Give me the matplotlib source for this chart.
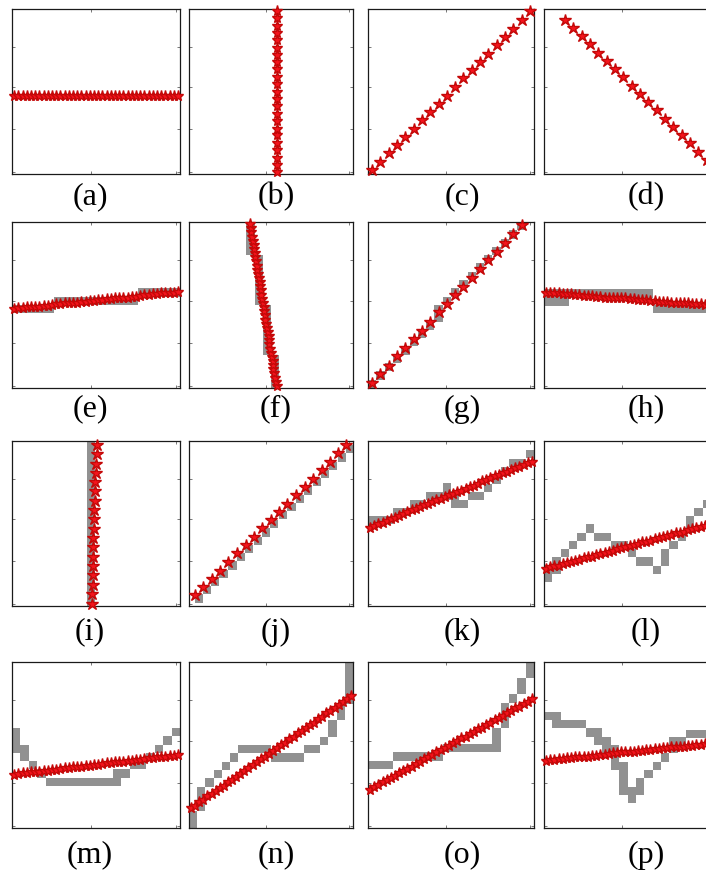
import matplotlib
matplotlib.use('Agg')
import matplotlib.pyplot as plt

GRAY = '#919191'
RED = '#f3141c'
RED_EDGE = '#c40808'

# x positions of the dense fitted-line markers (every half cell)
XS40 = [0.25, 0.75, 1.25, 1.75, 2.25, 2.75, 3.25, 3.75, 4.25, 4.75,
        5.25, 5.75, 6.25, 6.75, 7.25, 7.75, 8.25, 8.75, 9.25, 9.75,
        10.25, 10.75, 11.25, 11.75, 12.25, 12.75, 13.25, 13.75, 14.25, 14.75,
        15.25, 15.75, 16.25, 16.75, 17.25, 17.75, 18.25, 18.75, 19.25, 19.75]

# (a) horizontal
A_Y = [9.4, 9.4, 9.4, 9.4, 9.4, 9.4, 9.4, 9.4, 9.4, 9.4,
       9.4, 9.4, 9.4, 9.4, 9.4, 9.4, 9.4, 9.4, 9.4, 9.4,
       9.4, 9.4, 9.4, 9.4, 9.4, 9.4, 9.4, 9.4, 9.4, 9.4,
       9.4, 9.4, 9.4, 9.4, 9.4, 9.4, 9.4, 9.4, 9.4, 9.4]

# (b) vertical
B_X = [10.7, 10.7, 10.7, 10.7, 10.7, 10.7, 10.7, 10.7, 10.7, 10.7, 10.7, 10.7,
       10.7, 10.7, 10.7, 10.7, 10.7, 10.7, 10.7, 10.7, 10.7, 10.7, 10.7]
B_Y = [0.2, 1.1, 2.0, 2.9, 3.8, 4.7, 5.5, 6.4, 7.3, 8.2, 9.1, 10.0,
       10.9, 11.8, 12.7, 13.6, 14.4, 15.3, 16.2, 17.1, 18.0, 18.9, 19.8]

# (c) rising diagonal
C_X = [0.5, 1.5, 2.5, 3.5, 4.5, 5.5, 6.5, 7.5, 8.5, 9.5,
       10.5, 11.5, 12.5, 13.5, 14.5, 15.5, 16.5, 17.5, 18.5, 19.5]
C_Y = [0.5, 1.5, 2.5, 3.5, 4.5, 5.5, 6.5, 7.5, 8.5, 9.5,
       10.6, 11.6, 12.6, 13.6, 14.6, 15.6, 16.6, 17.6, 18.7, 19.7]

# (d) falling diagonal
D_X = [2.5, 3.5, 4.5, 5.5, 6.5, 7.5, 8.5, 9.5, 10.5, 11.5,
       12.5, 13.5, 14.5, 15.5, 16.5, 17.5, 18.5, 19.5, 20.5]
D_Y = [18.7, 17.7, 16.7, 15.7, 14.7, 13.7, 12.7, 11.7, 10.7, 9.7,
       8.7, 7.7, 6.7, 5.7, 4.7, 3.7, 2.7, 1.7, 0.7]

# (e)
E_Y = [9.5, 9.6, 9.6, 9.7, 9.7, 9.8, 9.8, 9.9, 9.9, 10.0,
       10.1, 10.1, 10.2, 10.2, 10.3, 10.3, 10.4, 10.4, 10.5, 10.5,
       10.6, 10.6, 10.7, 10.7, 10.8, 10.8, 10.9, 10.9, 11.0, 11.0,
       11.1, 11.2, 11.2, 11.3, 11.3, 11.4, 11.4, 11.5, 11.5, 11.6]
E_GRAY = [(0.5, 9.5), (1.5, 9.5), (2.5, 9.5), (3.5, 9.5), (4.5, 9.5),
          (5.5, 10.5), (6.5, 10.5), (7.5, 10.5), (8.5, 10.5), (9.5, 10.5),
          (10.5, 10.5), (11.5, 10.5), (12.5, 10.5), (13.5, 10.5), (14.5, 10.5),
          (15.5, 11.5), (16.5, 11.5), (17.5, 11.5), (18.5, 11.5), (19.5, 11.5)]

# (f) near vertical, markers every half cell in y
F_X = [10.7, 10.6, 10.5, 10.4, 10.3, 10.2, 10.2, 10.1, 10.0, 9.9,
       9.8, 9.8, 9.7, 9.6, 9.5, 9.4, 9.3, 9.3, 9.2, 9.1,
       9.0, 8.9, 8.8, 8.8, 8.7, 8.6, 8.5, 8.4, 8.3, 8.3,
       8.2, 8.1, 8.0, 7.9, 7.9, 7.8, 7.7, 7.6, 7.5, 7.4]
F_GRAY = [(10.5, 0.5), (10.5, 1.5), (10.5, 2.5), (10.5, 3.5),
          (9.5, 4.5), (9.5, 5.5), (9.5, 6.5), (9.5, 7.5), (9.5, 8.5), (9.5, 9.5),
          (8.5, 10.5), (8.5, 11.5), (8.5, 12.5), (8.5, 13.5), (8.5, 14.5), (8.5, 15.5),
          (7.5, 16.5), (7.5, 17.5), (7.5, 18.5), (7.5, 19.5)]

# (g)
G_X = [0.5, 1.5, 2.5, 3.5, 4.5, 5.5, 6.5, 7.5, 8.5, 9.5,
       10.5, 11.5, 12.5, 13.5, 14.5, 15.5, 16.5, 17.5, 18.5]
G_Y = [0.6, 1.7, 2.7, 3.8, 4.8, 5.9, 6.9, 8.0, 9.1, 10.1,
       11.2, 12.2, 13.3, 14.3, 15.4, 16.4, 17.5, 18.6, 19.6]
G_GRAY = [(0.5, 0.5), (1.5, 1.5), (2.5, 2.5), (3.5, 3.5), (4.5, 4.5), (5.5, 5.5),
          (6.5, 6.5), (7.5, 7.5), (8.5, 8.5), (8.5, 9.5), (9.5, 10.5), (10.5, 11.5),
          (11.5, 12.5), (12.5, 13.5), (13.5, 14.5), (14.5, 15.5), (15.5, 16.5),
          (16.5, 17.5), (17.5, 18.5), (18.5, 19.5)]

# (h)
H_Y = [11.5, 11.4, 11.4, 11.4, 11.3, 11.3, 11.3, 11.2, 11.2, 11.1,
       11.1, 11.1, 11.0, 11.0, 10.9, 10.9, 10.9, 10.8, 10.8, 10.8,
       10.7, 10.7, 10.6, 10.6, 10.6, 10.5, 10.5, 10.4, 10.4, 10.4,
       10.3, 10.3, 10.3, 10.2, 10.2, 10.1, 10.1, 10.1, 10.0, 10.0]
H_GRAY = [(0.5, 10.4), (1.5, 10.4), (2.5, 10.4),
          (0.5, 11.4), (1.5, 11.4), (2.5, 11.4), (3.5, 11.4), (4.5, 11.4), (5.5, 11.4),
          (6.5, 11.4), (7.5, 11.4), (8.5, 11.4), (9.5, 11.4), (10.5, 11.4), (11.5, 11.4),
          (12.5, 11.4), (13.5, 9.5), (14.5, 9.5), (15.5, 9.5), (16.5, 9.5), (17.5, 9.5),
          (18.5, 9.5), (19.5, 9.5)]

# (i) near vertical with pixels on the left
I_X = [9.5, 9.5, 9.6, 9.6, 9.6, 9.7, 9.7, 9.7, 9.8, 9.8,
       9.8, 9.9, 9.9, 9.9, 10.0, 10.0, 10.1, 10.1]
I_Y = [0.3, 1.4, 2.6, 3.7, 4.8, 5.9, 7.1, 8.2, 9.3, 10.5,
       11.6, 12.7, 13.9, 15.0, 16.1, 17.2, 18.4, 19.5]
I_GRAY = [(9.4, 0.5), (9.4, 1.5), (9.4, 2.5), (9.4, 3.5), (9.4, 4.5), (9.4, 5.5),
          (9.4, 6.5), (9.4, 7.5), (9.4, 8.5), (9.4, 9.5), (9.4, 10.5), (9.4, 11.5),
          (9.4, 12.5), (9.4, 13.5), (9.4, 14.5), (9.4, 15.5), (9.4, 16.5), (9.4, 17.5),
          (9.4, 18.5), (9.4, 19.5)]

# (j)
J_X = [0.7, 1.7, 2.8, 3.8, 4.8, 5.9, 6.9, 7.9, 8.9, 10.0,
       11.0, 12.0, 13.1, 14.1, 15.1, 16.2, 17.2, 18.2, 19.2]
J_Y = [1.3, 2.3, 3.3, 4.3, 5.3, 6.4, 7.4, 8.4, 9.4, 10.4,
       11.4, 12.4, 13.4, 14.4, 15.4, 16.5, 17.5, 18.5, 19.5]
J_GRAY = [(1.2, 0.9), (2.2, 1.9), (3.2, 2.9), (4.2, 3.9), (5.3, 4.9), (6.3, 5.9),
          (7.3, 6.9), (8.4, 7.9), (9.4, 8.9), (10.4, 9.9), (11.5, 11.0), (12.5, 12.0),
          (13.5, 13.0), (14.5, 14.0), (15.6, 15.0), (16.6, 16.0), (17.6, 17.0),
          (18.7, 18.0), (19.7, 19.0)]

# (k)
K_Y = [9.5, 9.7, 9.9, 10.1, 10.3, 10.5, 10.7, 10.9, 11.1, 11.4,
       11.6, 11.8, 12.0, 12.2, 12.4, 12.6, 12.8, 13.0, 13.2, 13.4,
       13.6, 13.8, 14.0, 14.2, 14.4, 14.6, 14.8, 15.1, 15.3, 15.5,
       15.7, 15.9, 16.1, 16.3, 16.5, 16.7, 16.9, 17.1, 17.3, 17.5]
K_GRAY = [(0.5, 10.4), (1.5, 10.4), (2.5, 10.4), (3.5, 11.4), (4.5, 11.4),
          (5.5, 12.4), (6.5, 12.4), (7.5, 13.3), (8.5, 13.3), (9.5, 14.4),
          (9.5, 13.4), (10.5, 13.4), (10.5, 12.4), (11.5, 12.4), (12.5, 13.3),
          (13.5, 13.3), (14.5, 14.3), (15.5, 15.3), (16.5, 16.3), (17.5, 17.3),
          (18.5, 17.3), (19.5, 18.4)]

# (l)
L_Y = [4.5, 4.7, 4.8, 4.9, 5.1, 5.2, 5.3, 5.5, 5.6, 5.8,
       5.9, 6.0, 6.2, 6.3, 6.4, 6.6, 6.7, 6.9, 7.0, 7.1,
       7.3, 7.4, 7.5, 7.7, 7.8, 7.9, 8.1, 8.2, 8.4, 8.5,
       8.6, 8.8, 8.9, 9.0, 9.2, 9.3, 9.5, 9.6, 9.7, 9.9]
L_GRAY = [(0.5, 3.4), (0.5, 4.4), (1.5, 4.4), (1.5, 5.4), (2.5, 6.4), (3.5, 7.4),
          (4.5, 8.4), (5.5, 9.4), (6.5, 8.4), (7.5, 8.4), (8.5, 7.4), (9.5, 7.4),
          (10.5, 6.4), (11.5, 5.4), (12.5, 5.4), (13.5, 4.4), (14.5, 5.4), (14.5, 6.4),
          (15.5, 7.4), (16.5, 8.4), (17.5, 9.4), (17.5, 10.4), (18.5, 11.4), (19.5, 12.4)]

# (m)
M_Y = [6.4, 6.5, 6.6, 6.6, 6.7, 6.7, 6.8, 6.9, 6.9, 7.0,
       7.0, 7.1, 7.2, 7.2, 7.3, 7.3, 7.4, 7.5, 7.5, 7.6,
       7.6, 7.7, 7.8, 7.8, 7.9, 7.9, 8.0, 8.1, 8.1, 8.2,
       8.2, 8.3, 8.4, 8.4, 8.5, 8.5, 8.6, 8.7, 8.7, 8.8]
M_GRAY = [(0.5, 9.55), (0.5, 10.55), (0.5, 11.55), (1.5, 8.55), (1.5, 9.55),
          (2.5, 7.55), (3.5, 6.55), (4.5, 5.55), (5.5, 5.55), (6.5, 5.55),
          (7.5, 5.55), (8.5, 5.55), (9.5, 5.55), (10.5, 5.55), (11.5, 5.55),
          (12.5, 5.55), (12.5, 6.55), (13.5, 6.55), (14.5, 7.55), (15.5, 7.55),
          (16.5, 8.55), (17.5, 9.55), (18.5, 10.55), (19.5, 11.55)]

# (n)
N_Y = [2.4, 2.7, 3.1, 3.4, 3.8, 4.1, 4.5, 4.8, 5.1, 5.5,
       5.8, 6.2, 6.5, 6.9, 7.2, 7.6, 7.9, 8.3, 8.6, 8.9,
       9.3, 9.6, 10.0, 10.3, 10.7, 11.0, 11.4, 11.7, 12.1, 12.4,
       12.7, 13.1, 13.4, 13.8, 14.1, 14.5, 14.8, 15.2, 15.5, 15.9]
N_GRAY = [(0.5, 0.5), (0.5, 1.5), (1.5, 2.5), (1.5, 3.5), (1.5, 4.5), (2.5, 5.5),
          (3.5, 6.5), (4.5, 7.5), (5.5, 8.5), (6.5, 9.5), (7.5, 9.5), (8.5, 9.5),
          (9.5, 9.5), (10.5, 8.5), (11.5, 8.5), (12.5, 8.5), (13.5, 8.5), (14.5, 9.5),
          (15.5, 9.5), (16.5, 10.5), (17.5, 11.5), (17.5, 12.5), (18.5, 13.5),
          (18.5, 14.5), (19.5, 15.5), (19.5, 16.5), (19.5, 17.5), (19.5, 18.5),
          (19.5, 19.5)]

# (o)
O_Y = [4.6, 4.9, 5.2, 5.5, 5.8, 6.0, 6.3, 6.6, 6.9, 7.1,
       7.4, 7.7, 8.0, 8.3, 8.5, 8.8, 9.1, 9.4, 9.6, 9.9,
       10.2, 10.5, 10.8, 11.0, 11.3, 11.6, 11.9, 12.1, 12.4, 12.7,
       13.0, 13.3, 13.5, 13.8, 14.1, 14.4, 14.6, 14.9, 15.2, 15.5]
O_GRAY = [(0.5, 7.6), (1.5, 7.6), (2.5, 7.6), (3.5, 8.6), (4.5, 8.6), (5.5, 8.6),
          (6.5, 8.6), (7.5, 8.6), (8.5, 8.6), (9.5, 9.6), (10.5, 9.6), (11.5, 9.6),
          (12.5, 9.6), (13.5, 9.6), (14.5, 9.6), (15.5, 9.6), (15.5, 10.6), (15.5, 11.6),
          (16.5, 12.6), (16.5, 13.6), (16.5, 14.6), (17.5, 15.6), (18.5, 16.6),
          (18.5, 17.6), (19.5, 18.6), (19.5, 19.6)]

# (p)
P_Y = [8.1, 8.2, 8.2, 8.3, 8.3, 8.4, 8.4, 8.5, 8.5, 8.6,
       8.6, 8.7, 8.7, 8.8, 8.8, 8.9, 9.0, 9.0, 9.1, 9.1,
       9.2, 9.2, 9.3, 9.3, 9.4, 9.4, 9.5, 9.5, 9.6, 9.6,
       9.7, 9.7, 9.8, 9.8, 9.9, 9.9, 10.0, 10.0, 10.1, 10.1]
P_GRAY = [(0.5, 13.5), (1.5, 13.5), (1.5, 12.5), (2.5, 12.5), (3.5, 12.5), (4.5, 12.5),
          (5.5, 11.5), (6.5, 11.5), (6.5, 10.5), (7.5, 10.5), (7.5, 9.5), (8.5, 9.5),
          (8.5, 8.5), (8.5, 7.5), (9.5, 7.5), (9.5, 6.5), (9.5, 5.5), (9.5, 4.5),
          (10.5, 4.5), (10.5, 3.5), (11.5, 4.5), (11.5, 5.5), (12.5, 6.5), (13.5, 7.5),
          (14.5, 8.5), (15.5, 9.5), (15.5, 10.5), (16.5, 10.5), (17.5, 11.3),
          (18.5, 11.3), (19.5, 11.3)]

LABELS = ['(a)', '(b)', '(c)', '(d)', '(e)', '(f)', '(g)', '(h)',
          '(i)', '(j)', '(k)', '(l)', '(m)', '(n)', '(o)', '(p)']


def draw_panel(ax, gray, mx, my, ms):
    if gray:
        gx = [g[0] for g in gray]
        gy = [g[1] - 0.5 for g in gray]
        ax.bar(gx, 1.0, width=1.0, bottom=gy, color=GRAY, linewidth=0, zorder=2)
    ax.plot(mx, my, linestyle='none', marker='*', ms=ms, mfc=RED, mec=RED_EDGE,
            mew=1.0, clip_on=False, zorder=3)

    ax.set_xlim(0, 20)
    ax.set_ylim(0, 20)
    ax.set_xticks([0, 9.4, 19.5])
    ax.set_yticks([0.2, 5.4, 10.5, 15.4, 20])
    ax.tick_params(direction='in', length=2.5, width=0.5, colors='#444444',
                   top=True, right=True, labelbottom=False, labelleft=False)
    for sp in ax.spines.values():
        sp.set_linewidth(0.9)
        sp.set_color('#1a1a1a')


def main():
    W, H = 706, 876
    fig = plt.figure(figsize=(W / 100, H / 100), dpi=100)

    col_left = [12, 189, 368, 544]
    col_width = [168, 164, 166, 167]
    row_top = [9, 222, 441, 662]
    row_height = [165, 166, 165, 166]
    label_x = [90, 276, 462, 646]
    label_y = [197, 409, 632, 855]

    dense, big = 8, 9
    panels = [
        ([], XS40, A_Y, dense), ([], B_X, B_Y, dense), ([], C_X, C_Y, big), ([], D_X, D_Y, big),
        (E_GRAY, XS40, E_Y, dense), (F_GRAY, F_X, XS40, dense), (G_GRAY, G_X, G_Y, big), (H_GRAY, XS40, H_Y, dense),
        (I_GRAY, I_X, I_Y, big), (J_GRAY, J_X, J_Y, big), (K_GRAY, XS40, K_Y, dense), (L_GRAY, XS40, L_Y, dense),
        (M_GRAY, XS40, M_Y, dense), (N_GRAY, XS40, N_Y, dense), (O_GRAY, XS40, O_Y, dense), (P_GRAY, XS40, P_Y, dense),
    ]

    for i, (gray, mx, my, ms) in enumerate(panels):
        r, c = divmod(i, 4)
        left = col_left[c] / W
        bottom = 1 - (row_top[r] + row_height[r]) / H
        ax = fig.add_axes([left, bottom, col_width[c] / W, row_height[r] / H])
        draw_panel(ax, gray, mx, my, ms)
        fig.text(label_x[c] / W, 1 - label_y[r] / H, LABELS[i], ha='center', va='center',
                 fontsize=23, family='Liberation Serif')

    fig.savefig('out.png', dpi=100, facecolor='white')


if __name__ == '__main__':
    main()
